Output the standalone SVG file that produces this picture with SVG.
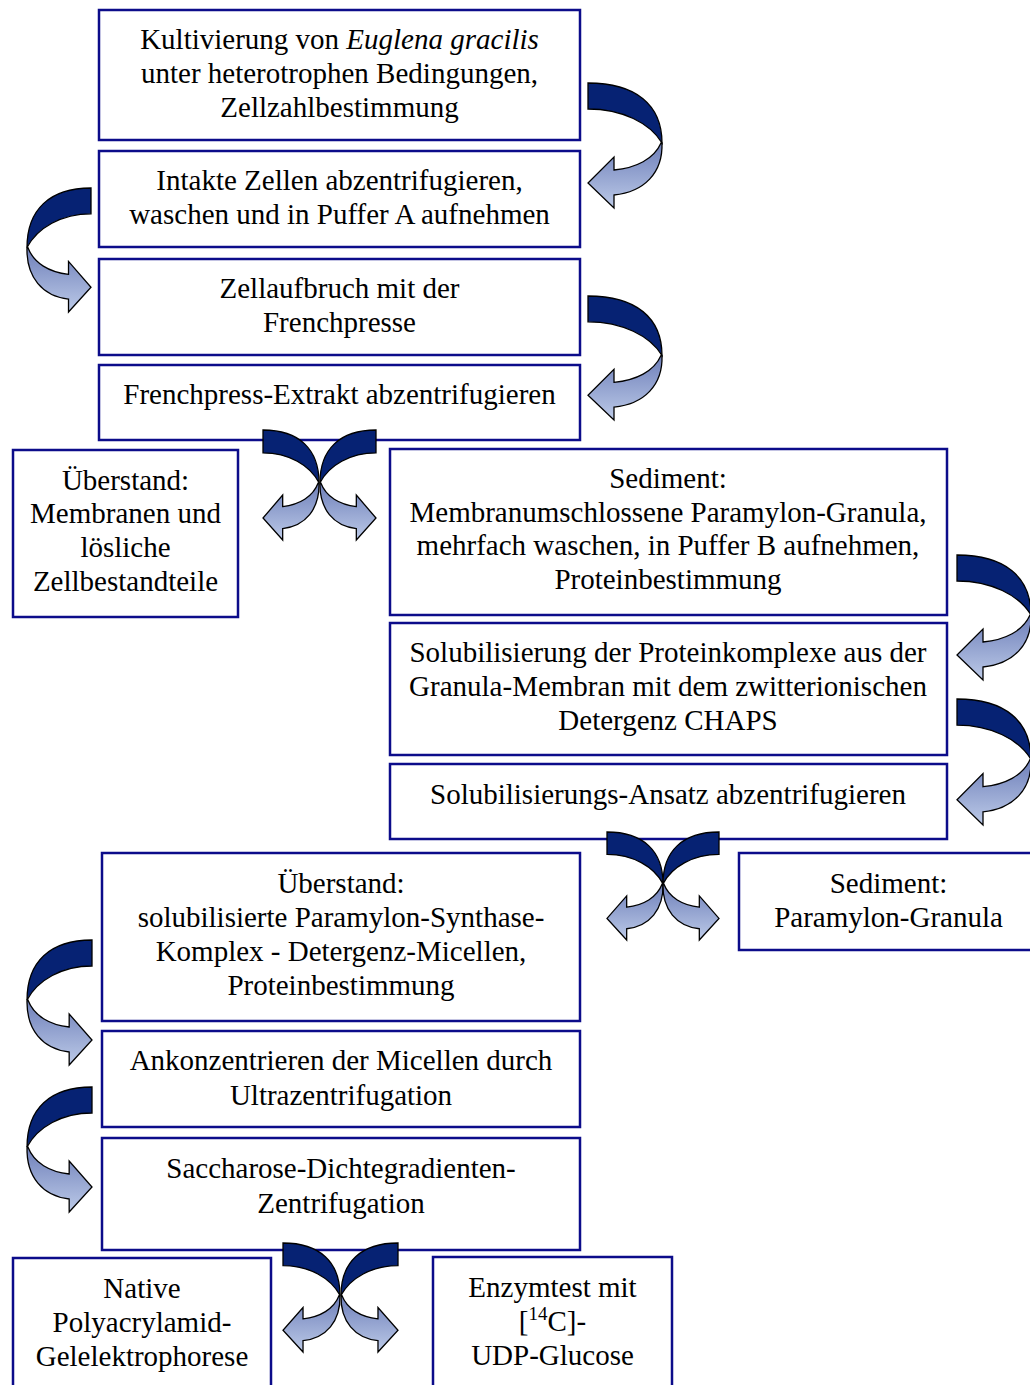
<svg xmlns="http://www.w3.org/2000/svg" width="1030" height="1385" viewBox="0 0 1030 1385">
<style>
.box{fill:#fff;stroke:#0c0c8a;stroke-width:2.5}
text{font-family:"Liberation Serif","Times New Roman",serif;font-size:29px;fill:#000;text-anchor:middle}
.dk{fill:#062273;stroke:#000;stroke-width:1.3;vector-effect:non-scaling-stroke}
.lt{fill:url(#lg);stroke:#000;stroke-width:1.3;vector-effect:non-scaling-stroke}
</style>
<defs>
<linearGradient id="lg" x1="0" y1="0" x2="0" y2="1">
<stop offset="0" stop-color="#6e7fb9"/>
<stop offset="1" stop-color="#bccae8"/>
</linearGradient>
<g id="arw">
<path class="dk" d="M0,0 C48,0 74,22 74,60 C62,40 34,26 0,26 Z"/>
<path class="lt" d="M74,60 C75,90 56,109 26,112 L26,125 L0,100 L26,74 L26,87 C48,85 66,76 73,60 Z"/>
</g>
</defs>
<rect width="1030" height="1385" fill="#fff"/>
<g id="n1"><rect class="box" x="99" y="10" width="481" height="130"/>
<text x="339.5" y="48.5">Kultivierung von <tspan font-style="italic">Euglena gracilis</tspan></text>
<text x="339.5" y="82.5">unter heterotrophen Bedingungen,</text>
<text x="339.5" y="116.5">Zellzahlbestimmung</text></g>
<g id="n2"><rect class="box" x="99" y="151" width="481" height="96"/>
<text x="339.5" y="190">Intakte Zellen abzentrifugieren,</text>
<text x="339.5" y="224">waschen und in Puffer A aufnehmen</text></g>
<g id="n3"><rect class="box" x="99" y="259" width="481" height="96"/>
<text x="339.5" y="297.5">Zellaufbruch mit der</text>
<text x="339.5" y="331.5">Frenchpresse</text></g>
<g id="n4"><rect class="box" x="99" y="365" width="481" height="75"/>
<text x="339.5" y="404">Frenchpress-Extrakt abzentrifugieren</text></g>
<g id="n5"><rect class="box" x="13" y="450" width="225" height="167"/>
<text x="125.5" y="490">Überstand:</text>
<text x="125.5" y="523">Membranen und</text>
<text x="125.5" y="557">lösliche</text>
<text x="125.5" y="591">Zellbestandteile</text></g>
<g id="n6"><rect class="box" x="390" y="449" width="557" height="166"/>
<text x="668" y="488">Sediment:</text>
<text x="668" y="522">Membranumschlossene Paramylon-Granula,</text>
<text x="668" y="555">mehrfach waschen, in Puffer B aufnehmen,</text>
<text x="668" y="589">Proteinbestimmung</text></g>
<g id="n7"><rect class="box" x="390" y="623" width="557" height="132"/>
<text x="668" y="662">Solubilisierung der Proteinkomplexe aus der</text>
<text x="668" y="696">Granula-Membran mit dem zwitterionischen</text>
<text x="668" y="730">Detergenz CHAPS</text></g>
<g id="n8"><rect class="box" x="390" y="764" width="557" height="75"/>
<text x="668" y="804">Solubilisierungs-Ansatz abzentrifugieren</text></g>
<g id="n9"><rect class="box" x="102" y="853" width="478" height="168"/>
<text x="341" y="893">Überstand:</text>
<text x="341" y="927">solubilisierte Paramylon-Synthase-</text>
<text x="341" y="961">Komplex - Detergenz-Micellen,</text>
<text x="341" y="995">Proteinbestimmung</text></g>
<g id="n10"><rect class="box" x="739" y="853" width="300" height="97"/>
<text x="888.5" y="893">Sediment:</text>
<text x="888.5" y="927">Paramylon-Granula</text></g>
<g id="n11"><rect class="box" x="102" y="1031" width="478" height="96"/>
<text x="341" y="1070">Ankonzentrieren der Micellen durch</text>
<text x="341" y="1105">Ultrazentrifugation</text></g>
<g id="n12"><rect class="box" x="102" y="1138" width="478" height="112"/>
<text x="341" y="1178">Saccharose-Dichtegradienten-</text>
<text x="341" y="1213">Zentrifugation</text></g>
<g id="n13"><rect class="box" x="13" y="1258" width="258" height="150"/>
<text x="142" y="1298">Native</text>
<text x="142" y="1332">Polyacrylamid-</text>
<text x="142" y="1366">Gelelektrophorese</text></g>
<g id="n14"><rect class="box" x="433" y="1257" width="239" height="150"/>
<text x="552.5" y="1297">Enzymtest mit</text>
<text x="552.5" y="1331">[<tspan font-size="19" dy="-11">14</tspan><tspan dy="11">C]-</tspan></text>
<text x="552.5" y="1365">UDP-Glucose</text></g>
<g id="connectors">
<use href="#arw" transform="translate(588,83)"/>
<use href="#arw" transform="translate(91,188) scale(-0.865,0.992)"/>
<use href="#arw" transform="translate(588,296) scale(1,0.992)"/>
<use href="#arw" transform="translate(263,430) scale(0.757,0.88)"/>
<use href="#arw" transform="translate(376,430) scale(-0.757,0.88)"/>
<use href="#arw" transform="translate(957,555)"/>
<use href="#arw" transform="translate(957,699) scale(1,1.008)"/>
<use href="#arw" transform="translate(607,832) scale(0.757,0.864)"/>
<use href="#arw" transform="translate(719,832) scale(-0.757,0.864)"/>
<use href="#arw" transform="translate(92,940) scale(-0.878,1)"/>
<use href="#arw" transform="translate(92,1087) scale(-0.878,1)"/>
<use href="#arw" transform="translate(283,1243) scale(0.77,0.872)"/>
<use href="#arw" transform="translate(398,1243) scale(-0.77,0.872)"/>
</g>
</svg>
